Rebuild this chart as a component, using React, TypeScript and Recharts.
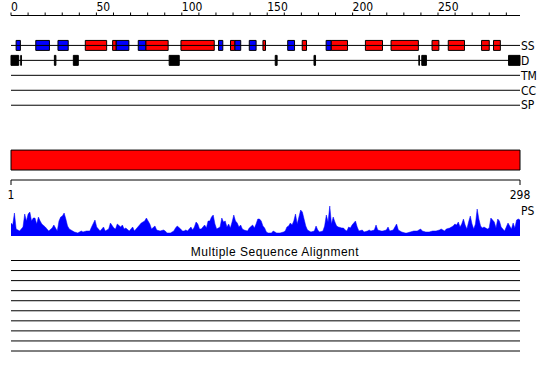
import { ComposedChart, AreaChart, Area, XAxis, YAxis, ReferenceArea, ReferenceLine } from "recharts";

// secondary structure: strands (blue) and helices (red), residue ranges
const ssStrands = [
  [3, 5.5], [14.5, 22.5], [27.5, 33.5], [61.5, 69], [74.5, 79], [121.5, 124],
  [131, 134.5], [139.5, 143.5], [162, 166], [184.5, 187.5],
];
const ssHelices = [
  [43.5, 56], [59.5, 61.5], [79, 92], [99.5, 119], [128.5, 131], [147.5, 149],
  [170.5, 173], [187.5, 197], [207.5, 217.5], [222.5, 238.5], [246.5, 250.5],
  [256, 265.5], [275.5, 280], [282.5, 286.5],
];
// disorder (D) segments
const disorder = [
  [0, 4.5], [5.7, 6.1], [25.4, 26.3], [36.5, 39.4], [92.6, 98.5], [154.7, 155.8],
  [177.4, 178.3], [238.8, 239.1], [240.5, 243.2], [291.3, 298],
];
const trackNames = ["SS", "D", "TM", "CC", "SP"];
const topTicks = [0, 10, 20, 30, 40, 50, 60, 70, 80, 90, 100, 110, 120, 130, 140, 150, 160, 170, 180, 190, 200, 210, 220, 230, 240, 250, 260, 270, 280, 290];
const seqTicks = [1, 298];
const domainRange = [1, 298];

// PS profile
const psPos = [
  1, 2, 3, 4, 6, 8, 9, 10, 11, 12, 13, 14, 15, 16, 17, 18, 19, 21, 22, 23, 25, 26, 28, 29, 30, 31, 32, 33, 34, 35,
  37, 38, 40, 42, 43, 45, 47, 48, 50, 51, 53, 55, 56, 58, 59, 61, 62, 63, 65, 66, 67, 68, 70, 72, 73, 75, 76, 77, 78, 79,
  80, 81, 82, 83, 85, 86, 88, 90, 91, 92, 94, 96, 97, 98, 100, 101, 102, 103, 104, 105, 106, 107, 108, 109, 110, 111, 112, 113, 114, 115,
  116, 117, 118, 119, 120, 121, 122, 123, 124, 125, 126, 127, 128, 129, 130, 131, 132, 133, 134, 135, 136, 137, 139, 140, 142, 143, 144, 145, 146, 147,
  148, 149, 150, 151, 153, 154, 156, 158, 160, 161, 162, 163, 164, 165, 166, 167, 168, 169, 170, 171, 172, 173, 174, 175, 176, 178, 179, 180, 181, 183,
  184, 185, 186, 187, 188, 189, 190, 191, 192, 194, 195, 196, 197, 198, 199, 200, 201, 202, 203, 204, 206, 207, 209, 210, 211, 213, 214, 215, 217, 218,
  220, 221, 222, 224, 225, 226, 227, 229, 231, 232, 234, 236, 238, 240, 241, 243, 245, 247, 249, 251, 252, 254, 255, 257, 258, 259, 260, 261, 262, 263,
  264, 265, 266, 267, 268, 269, 270, 271, 272, 273, 274, 275, 276, 277, 278, 279, 280, 281, 282, 283, 284, 285, 286, 287, 288, 289, 290, 291, 292, 293,
  294, 295, 296, 297, 298,
];
const psScore = [
  13, 11, 23, 7, 5, 9, 22, 15, 22, 24, 15, 18, 18, 12, 19, 15, 12, 9, 7, 5, 8, 11, 5, 15, 19, 20, 23, 17, 10, 7,
  5, 4, 3, 5, 4, 5, 5, 9, 16, 9, 5, 9, 5, 7, 13, 8, 7, 12, 9, 11, 7, 8, 5, 9, 5, 9, 11, 13, 14, 15,
  18, 15, 12, 7, 10, 6, 5, 6, 5, 3, 3, 5, 8, 10, 7, 5, 5, 6, 5, 7, 9, 6, 9, 14, 12, 7, 7, 9, 11, 8,
  15, 15, 19, 21, 12, 7, 8, 9, 18, 14, 15, 9, 12, 8, 14, 21, 15, 13, 9, 11, 7, 6, 5, 8, 11, 8, 12, 17, 17, 15,
  10, 8, 4, 3, 3, 5, 3, 3, 4, 5, 9, 10, 13, 11, 15, 22, 12, 19, 26, 24, 17, 10, 6, 5, 4, 5, 10, 6, 4, 5,
  10, 21, 14, 30, 12, 19, 14, 10, 9, 8, 8, 6, 5, 9, 8, 11, 13, 15, 9, 5, 6, 4, 5, 6, 5, 6, 11, 6, 5, 5,
  6, 9, 5, 6, 9, 12, 6, 4, 3, 3, 4, 5, 5, 7, 5, 4, 4, 5, 5, 6, 7, 5, 7, 8, 9, 10, 12, 11, 14, 9,
  12, 17, 11, 7, 14, 20, 12, 7, 12, 27, 17, 10, 8, 9, 8, 7, 8, 18, 16, 14, 8, 17, 15, 9, 7, 5, 9, 13, 10, 7,
  13, 8, 16, 17, 16,
];
const msaRows = [1, 2, 3, 4, 5, 6, 7, 8, 9, 10];

const psData = psPos.map((p, i) => ({ pos: p, ps: psScore[i] }));

const FONT = "'Liberation Sans Narrow', 'DejaVu Sans Condensed', 'Liberation Sans', sans-serif";

// y positions of tracks on the feature panel (5px units, reversed)
const TRACK_Y = [6, 9, 12, 15, 18];
const BOX = 1;

function TopTick(props: any) {
  const { x, y, payload } = props;
  if (payload.value % 50 !== 0) return null;
  return (
    <text x={x} y={y} textAnchor="start" fontSize={12} fill="#000" fontFamily={FONT}>
      {payload.value}
    </text>
  );
}

export default function App() {
  return (
    <div style={{ position: "absolute", left: 0, top: 0, width: 550, height: 380, background: "#fff", fontFamily: FONT }}>
      <div style={{ position: "absolute", left: 0, top: 0 }}>
        <ComposedChart width={550} height={205} data={psData} margin={{ top: 0.5, right: 0, bottom: 0, left: 11 }}>
          <XAxis
            dataKey="pos"
            type="number"
            orientation="top"
            domain={[0, 298]}
            ticks={topTicks}
            height={15}
            tickSize={3}
            tickMargin={2}
            stroke="#000"
            tick={TopTick}
            interval={0}
            allowDataOverflow
          />
          <XAxis
            xAxisId="pos"
            dataKey="pos"
            type="number"
            orientation="bottom"
            domain={[1, 298]}
            ticks={seqTicks}
            height={25}
            tickSize={5}
            tickMargin={5}
            stroke="#000"
            tick={{ fill: "#000", fontSize: 12 }}
            interval={0}
            allowDataOverflow
          />
          <YAxis
            type="number"
            orientation="right"
            domain={[0, 33]}
            reversed
            width={30}
            ticks={TRACK_Y}
            tickFormatter={(v: number) => trackNames[TRACK_Y.indexOf(v)]}
            axisLine={false}
            tickLine={false}
            tickSize={0}
            tickMargin={1}
            tick={{ fill: "#000", fontSize: 12 }}
            interval={0}
            allowDataOverflow
          />
          {TRACK_Y.map((y) => (
            <ReferenceLine key={"t" + y} y={y} stroke="#000" strokeWidth={1} />
          ))}
          {ssStrands.map(([a, b], i) => (
            <ReferenceArea key={"s" + i} x1={a} x2={b} y1={TRACK_Y[0] - BOX} y2={TRACK_Y[0] + BOX}
              fill="#0000ff" fillOpacity={1} stroke="#000" strokeWidth={1} />
          ))}
          {ssHelices.map(([a, b], i) => (
            <ReferenceArea key={"h" + i} x1={a} x2={b} y1={TRACK_Y[0] - BOX} y2={TRACK_Y[0] + BOX}
              fill="#ff0000" fillOpacity={1} stroke="#000" strokeWidth={1} />
          ))}
          {disorder.map(([a, b], i) => (
            <ReferenceArea key={"d" + i} x1={a} x2={b} y1={TRACK_Y[1] - BOX} y2={TRACK_Y[1] + BOX}
              fill="#000" fillOpacity={1} stroke="#000" strokeWidth={1} />
          ))}
          <ReferenceArea xAxisId="pos" x1={domainRange[0]} x2={domainRange[1]} y1={27} y2={31}
            fill="#ff0000" fillOpacity={1} stroke="#000" strokeWidth={1} />
        </ComposedChart>
      </div>

      <div style={{ position: "absolute", left: 0, top: 200 }}>
        <AreaChart width={550} height={40} data={psData} margin={{ top: 6, right: 0, bottom: 4, left: 11 }}>
          <XAxis dataKey="pos" type="number" domain={[1, 298]} hide allowDataOverflow />
          <YAxis
            type="number"
            orientation="right"
            domain={[0, 30]}
            width={30}
            ticks={[25]}
            tickFormatter={() => "PS"}
            axisLine={false}
            tickLine={false}
            tickSize={0}
            tickMargin={1}
            tick={{ fill: "#000", fontSize: 12 }}
            allowDataOverflow
          />
          <Area dataKey="ps" type="linear" fill="#0000ff" fillOpacity={1} stroke="#0000ff" strokeWidth={0.5}
            baseValue={0} dot={false} activeDot={false} isAnimationActive={false} />
        </AreaChart>
      </div>

      <div style={{ position: "absolute", left: 0, top: 246, width: 550, textAlign: "center", fontSize: 12, lineHeight: "12px", fontFamily: "'Liberation Sans', sans-serif", letterSpacing: 0.5 }}>
        Multiple Sequence Alignment
      </div>

      <div style={{ position: "absolute", left: 0, top: 250 }}>
        <ComposedChart width={550} height={106} data={psData} margin={{ top: 10.5, right: 30, bottom: 5, left: 11 }}>
          <XAxis dataKey="pos" type="number" domain={[0, 298]} hide allowDataOverflow />
          <YAxis type="number" domain={[1, 10]} reversed hide allowDataOverflow />
          {msaRows.map((r) => (
            <ReferenceLine key={r} y={r} stroke="#000" strokeWidth={1} />
          ))}
        </ComposedChart>
      </div>
    </div>
  );
}
